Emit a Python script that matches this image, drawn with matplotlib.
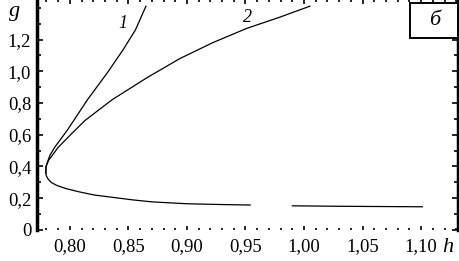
import numpy as np
import matplotlib.pyplot as plt
from matplotlib.ticker import MultipleLocator, FixedLocator, FuncFormatter
from matplotlib.patches import Rectangle

plt.rcParams['font.family'] = 'Liberation Serif'

# Curve 1 (upper branch)
c1_h = [0.7795, 0.7797, 0.781, 0.783, 0.787, 0.798, 0.815, 0.832, 0.845, 0.856, 0.865]
c1_g = [0.36, 0.40, 0.43, 0.47, 0.52, 0.63, 0.82, 0.99, 1.13, 1.26, 1.41]

# Curve 2 (upper branch)
c2_h = [0.7795, 0.7797, 0.782, 0.790, 0.802, 0.813, 0.836, 0.866, 0.894, 0.922, 0.951, 0.979, 1.005]
c2_g = [0.36, 0.40, 0.44, 0.52, 0.61, 0.69, 0.82, 0.96, 1.08, 1.18, 1.27, 1.34, 1.41]

# Common lower branch (two pieces with a gap)
low1_h = [0.7795, 0.7800, 0.7815, 0.784, 0.789, 0.797, 0.808, 0.821, 0.853, 0.870, 0.900, 0.930, 0.954]
low1_g = [0.36, 0.34, 0.32, 0.30, 0.28, 0.26, 0.24, 0.22, 0.19, 0.177, 0.165, 0.160, 0.157]
low2_h = [0.990, 1.032, 1.101]
low2_g = [0.152, 0.149, 0.146]

y_ticks = [0, 0.2, 0.4, 0.6, 0.8, 1.0, 1.2]

fig = plt.figure(figsize=(4.6, 2.61), dpi=100)
ax = fig.add_axes([0.080, 0.119, 0.916, 0.881])

for h, g in [(c1_h, c1_g), (c2_h, c2_g), (low1_h, low1_g), (low2_h, low2_g)]:
    ax.plot(h, g, color='black', lw=0.9)

ax.set_xlim(0.7718, 1.1316)
ax.set_ylim(0, 1.449)

ax.spines['top'].set_visible(False)
ax.spines['bottom'].set_visible(False)
ax.spines['left'].set_linewidth(2.5)
ax.spines['right'].set_linewidth(2.5)

ax.xaxis.set_major_locator(MultipleLocator(0.05))
ax.xaxis.set_minor_locator(MultipleLocator(0.01))
ax.yaxis.set_major_locator(FixedLocator(y_ticks))
ax.yaxis.set_minor_locator(MultipleLocator(0.1))

ax.xaxis.set_major_formatter(FuncFormatter(lambda v, p: f'{v:.2f}'.replace('.', ',')))
ax.yaxis.set_major_formatter(FuncFormatter(lambda v, p: '0' if abs(v) < 1e-9 else f'{v:.1f}'.replace('.', ',')))

ax.tick_params(axis='x', which='both', direction='in', top=True, bottom=True,
               width=1.2, labelsize=13.5, pad=6)
ax.tick_params(axis='x', which='major', length=3)
ax.tick_params(axis='x', which='minor', length=1.5)
ax.tick_params(axis='y', which='both', direction='in', left=True, right=True,
               width=1.2, labelsize=13.5, pad=4)
ax.tick_params(axis='y', which='major', length=4)
ax.tick_params(axis='y', which='minor', length=3)

ax.text(-0.052, 0.95, 'g', transform=ax.transAxes, fontsize=16, style='italic',
        ha='center', va='center')
ax.text(0.975, -0.075, 'h', transform=ax.transAxes, fontsize=16, style='italic',
        ha='center', va='center')

ax.text(0.845, 1.30, '1', fontsize=13, style='italic', ha='center', va='center')
ax.text(0.952, 1.34, '2', fontsize=13, style='italic', ha='center', va='center')

ax.add_patch(Rectangle((0.886, 0.835), 0.114, 0.152, transform=ax.transAxes,
                       fc='white', ec='black', lw=1.4, zorder=3))
ax.text(0.943, 0.913, 'б', transform=ax.transAxes, fontsize=16, style='italic',
        ha='center', va='center', zorder=4)

fig.savefig('out.png', dpi=100)
